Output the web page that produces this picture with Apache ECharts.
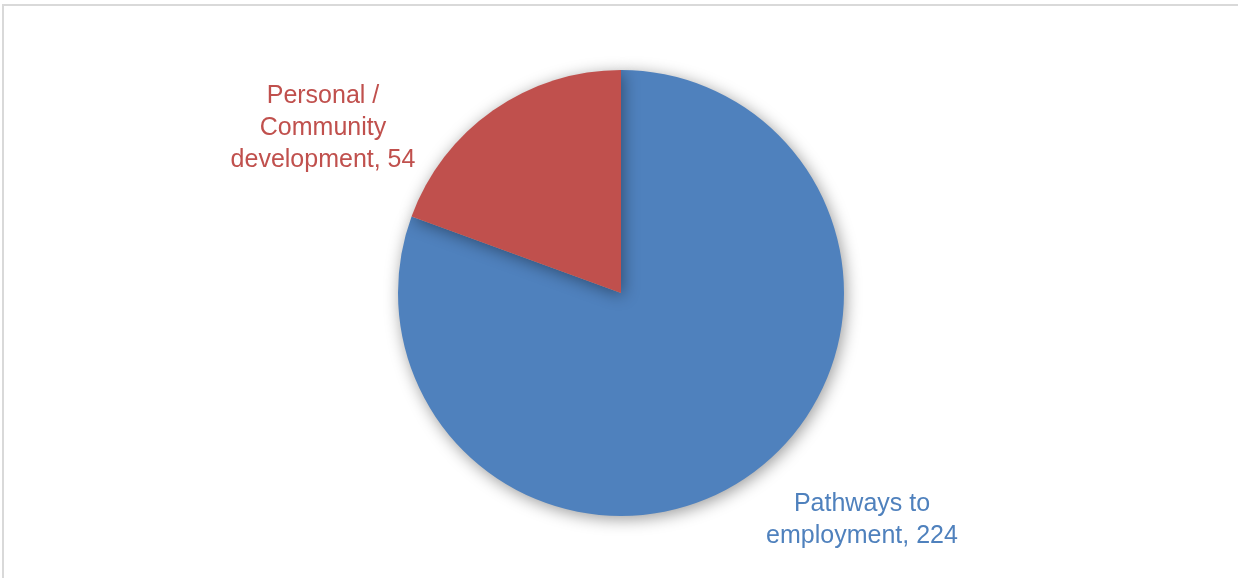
<!DOCTYPE html>
<html>
<head>
<meta charset="utf-8">
<style>
  html, body { margin: 0; padding: 0; background: #ffffff; }
  #chart { width: 1238px; height: 578px; }
</style>
<script src="https://cdn.jsdelivr.net/npm/echarts@6/dist/echarts.min.js"></script>
</head>
<body>
<div id="chart"></div>
<script>
// Programme participation by stream
const categories = ['Pathways to\nemployment', 'Personal /\nCommunity\ndevelopment'];
const values = [224, 54];
const colors = ['#4F81BD', '#C0504D'];

// Label anchor points (centre of each label block)
const labelSpots = [
  { x: 862, y: 520 },
  { x: 323, y: 128 }
];

const chart = echarts.init(document.getElementById('chart'), null, { renderer: 'canvas' });

chart.setOption({
  backgroundColor: '#ffffff',
  animation: false,
  graphic: [{
    type: 'rect',
    shape: { x: 3, y: 5, width: 1300, height: 700 },
    style: { fill: 'none', stroke: '#d9d9d9', lineWidth: 2 },
    silent: true
  }],
  series: [{
    type: 'pie',
    center: [621, 293],
    radius: 223,
    startAngle: 90,
    clockwise: true,
    data: categories.map((name, i) => ({
      name,
      value: values[i],
      itemStyle: { color: colors[i] },
      label: { color: colors[i] }
    })),
    itemStyle: {
      borderWidth: 0,
      shadowBlur: 16,
      shadowColor: 'rgba(0,0,0,0.4)',
      shadowOffsetX: 2,
      shadowOffsetY: 3
    },
    label: {
      show: true,
      position: 'outside',
      formatter: '{b}, {c}',
      fontFamily: 'Liberation Sans, Arial, sans-serif',
      fontSize: 25,
      lineHeight: 32,
      align: 'center'
    },
    labelLine: { show: false },
    labelLayout: (params) => {
      const p = labelSpots[params.dataIndex];
      return { x: p.x, y: p.y, align: 'center', verticalAlign: 'middle' };
    },
    emphasis: { disabled: true }
  }]
});
</script>
</body>
</html>
